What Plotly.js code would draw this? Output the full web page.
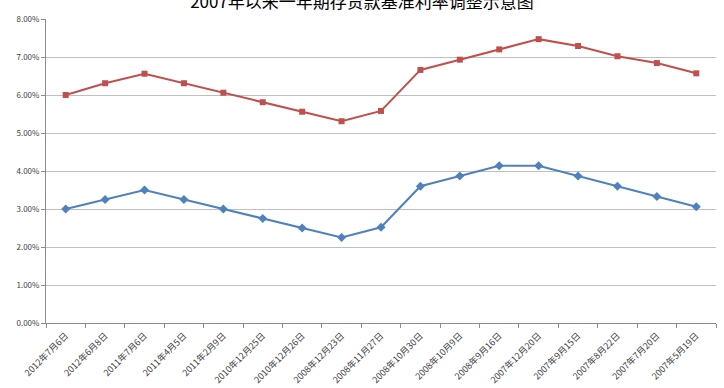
<!DOCTYPE html>
<html>
<head>
<meta charset="utf-8">
<script src="https://cdn.plot.ly/plotly-3.0.1.min.js"></script>
<style>html,body{margin:0;padding:0;background:#fff;}#chart{width:724px;height:388px;}</style>
</head>
<body>
<div id="chart"></div>
<script>
const categories = ["2012年7月6日","2012年6月8日","2011年7月6日","2011年4月5日","2011年2月9日","2010年12月25日","2010年12月26日","2008年12月23日","2008年11月27日","2008年10月30日","2008年10月9日","2008年9月16日","2007年12月20日","2007年9月15日","2007年8月22日","2007年7月20日","2007年5月19日"];
const depositRate = [0.0300,0.0325,0.0350,0.0325,0.0300,0.0275,0.0250,0.0225,0.0252,0.0360,0.0387,0.0414,0.0414,0.0387,0.0360,0.0333,0.0306];
const loanRate = [0.0600,0.0631,0.0656,0.0631,0.0606,0.0581,0.0556,0.0531,0.0558,0.0666,0.0693,0.0720,0.0747,0.0729,0.0702,0.0684,0.0657];
const yTicks = [0,0.01,0.02,0.03,0.04,0.05,0.06,0.07,0.08];
const titleText = "2007年以来一年期存贷款基准利率调整示意图";

const font = '"Noto Sans CJK SC", "DejaVu Sans", sans-serif';
const traces = [
  {x: categories, y: depositRate, type: 'scatter', mode: 'lines+markers', name: '存款利率',
   line: {color: '#4F81BD', width: 2}, marker: {symbol: 'diamond', size: 7, color: '#4F81BD'}},
  {x: categories, y: loanRate, type: 'scatter', mode: 'lines+markers', name: '贷款利率',
   line: {color: '#C0504D', width: 2}, marker: {symbol: 'square', size: 6, color: '#C0504D'}}
];
const layout = {
  width: 724, height: 388,
  margin: {l: 46, r: 8, t: 19, b: 65},
  paper_bgcolor: '#fff', plot_bgcolor: '#fff',
  showlegend: false,
  title: {text: titleText, font: {family: font, size: 17, color: '#000'}, x: 0.5, xanchor: 'center', y: 0.995, yref: 'container', yanchor: 'middle'},
  xaxis: {type: 'category', tickangle: -45, tickfont: {family: font, size: 9, color: '#404040'},
          showline: true, linecolor: '#8c8c8c', linewidth: 1, showgrid: false, ticklabelstandoff: 3,
          ticks: 'outside', tickson: 'boundaries', ticklen: 4, tickcolor: '#8c8c8c', zeroline: false,
          range: [-0.5, categories.length - 0.5]},
  yaxis: {range: [0, 0.08], tickvals: yTicks, tickformat: '.2%', tickfont: {family: font, size: 8, color: '#404040'},
          showline: true, linecolor: '#8c8c8c', linewidth: 1, showgrid: true, gridcolor: '#bfbfbf', gridwidth: 1,
          ticks: 'outside', ticklen: 4, tickcolor: '#8c8c8c', zeroline: false}
};
Plotly.newPlot('chart', traces, layout, {displayModeBar: false, staticPlot: true});
</script>
</body>
</html>
